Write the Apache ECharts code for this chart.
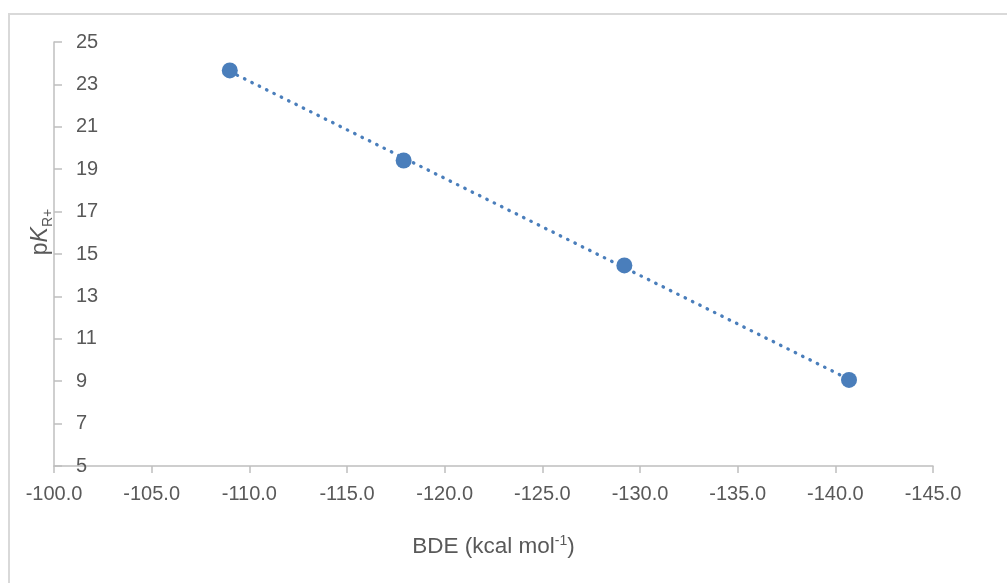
<!DOCTYPE html>
<html>
<head>
<meta charset="utf-8">
<script src="https://cdn.jsdelivr.net/npm/echarts@6/dist/echarts.min.js"></script>
<style>
html,body{margin:0;padding:0;background:#fff;}
#chart{width:1007px;height:583px;}
</style>
</head>
<body>
<div id="chart"></div>
<script>
// Data
var bdeValues = [-109.0, -117.9, -129.2, -140.7];
var pkValues = [23.66, 19.41, 14.46, 9.06];
var xTicks = {min: -145, max: -100, interval: 5};
var yTicks = {min: 5, max: 25, interval: 2};

// Linear trendline (least squares), as in the original spreadsheet chart
function linearFit(xs, ys) {
  var n = xs.length, sx = 0, sy = 0, sxx = 0, sxy = 0;
  for (var i = 0; i < n; i++) { sx += xs[i]; sy += ys[i]; sxx += xs[i]*xs[i]; sxy += xs[i]*ys[i]; }
  var b = (n*sxy - sx*sy) / (n*sxx - sx*sx);
  var a = (sy - b*sx) / n;
  return {a: a, b: b};
}
var fit = linearFit(bdeValues, pkValues);
var xLo = Math.min.apply(null, bdeValues), xHi = Math.max.apply(null, bdeValues);
var trend = [[xHi, fit.a + fit.b*xHi], [xLo, fit.a + fit.b*xLo]];
var points = bdeValues.map(function (x, i) { return [x, pkValues[i]]; });

var textColor = '#595959';
var axisColor = '#BFBFBF';
var blue = '#4A7EBB';
var font = 'Liberation Sans';

var chart = echarts.init(document.getElementById('chart'), null, {renderer: 'canvas'});
chart.setOption({
  animation: false,
  backgroundColor: '#ffffff',
  grid: {left: 54, top: 42, width: 879, height: 424, containLabel: false},
  xAxis: {
    type: 'value', inverse: true,
    min: xTicks.min, max: xTicks.max, interval: xTicks.interval,
    axisLine: {show: true, lineStyle: {color: axisColor, width: 1.5}},
    axisTick: {show: true, inside: false, length: 7, lineStyle: {color: axisColor, width: 1.5}},
    splitLine: {show: false},
    axisLabel: {color: textColor, fontFamily: font, fontSize: 20, margin: 18,
      formatter: function (v) { return v.toFixed(1); }},
    name: '{a|BDE (kcal mol}{s|-1}{a|)}',
    nameLocation: 'middle', nameGap: 68,
    nameTextStyle: {rich: {
      a: {color: textColor, fontFamily: font, fontSize: 22.5, lineHeight: 26},
      s: {color: textColor, fontFamily: font, fontSize: 14, verticalAlign: 'top', lineHeight: 26, padding: [0, 0, 10, 0]}
    }}
  },
  yAxis: {
    type: 'value',
    min: yTicks.min, max: yTicks.max, interval: yTicks.interval,
    axisLine: {show: true, onZero: false, lineStyle: {color: axisColor, width: 1.5}},
    axisTick: {show: true, inside: true, length: 8, lineStyle: {color: axisColor, width: 1.5}},
    splitLine: {show: false},
    axisLabel: {inside: true, color: textColor, fontFamily: font, fontSize: 20, margin: 22}
  },
  graphic: [
    {type: 'rect', shape: {x: 9, y: 14, width: 1100, height: 700},
      style: {fill: 'none', stroke: '#D9D9D9', lineWidth: 2}, silent: true, z: 0},
    {type: 'text', x: 41, y: 232, rotation: Math.PI / 2,
      style: {
        text: '{p|p}{k|K}{r|R+}',
        align: 'center', verticalAlign: 'middle',
        rich: {
          p: {fill: textColor, fontFamily: font, fontSize: 23, lineHeight: 28},
          k: {fill: textColor, fontFamily: font, fontSize: 23, fontStyle: 'italic', lineHeight: 28},
          r: {fill: textColor, fontFamily: font, fontSize: 14, verticalAlign: 'bottom', lineHeight: 28, padding: [6, 0, 0, 0]}
        }
      }, z: 10}
  ],
  series: [
    {type: 'line', data: trend, symbol: 'none', silent: true, z: 2,
      lineStyle: {color: blue, width: 3.3, type: [0.5, 7.7], cap: 'round'}},
    {type: 'scatter', data: points, symbol: 'circle', symbolSize: 16, z: 3,
      itemStyle: {color: blue, opacity: 1}}
  ]
});
</script>
</body>
</html>
